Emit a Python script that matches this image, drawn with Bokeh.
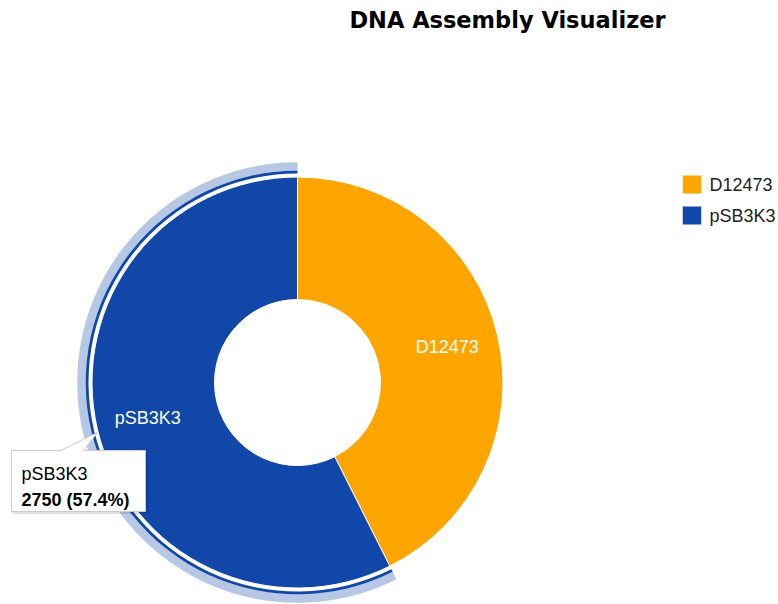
import numpy as np
from bokeh.plotting import figure
from bokeh.models import ColumnDataSource, Range1d
from bokeh.embed import file_html
from bokeh.resources import INLINE
from bokeh.core.properties import value

# ---- data ----
title = "DNA Assembly Visualizer"
categories = ["D12473", "pSB3K3"]
values = [2040, 2750]
colors = ["#FFA500", "#1047A9"]
halo_color = "#B7C8E5"
highlighted = "pSB3K3"

# ---- layout ----
W, H = 778, 604
def Y(y):  # reference (top-down) pixel -> bokeh (bottom-up)
    return H - y

p = figure(width=W, height=H, x_range=Range1d(0, W), y_range=Range1d(0, H),
           output_backend="svg", toolbar_location=None, min_border=0)
p.axis.visible = False
p.grid.visible = False
p.outline_line_color = None
p.background_fill_color = "white"
p.border_fill_color = "white"

cx, cy = 297, Y(382)
r_in, r_out = 83, 205.5

vals = np.array(values, dtype=float)
total = vals.sum()
fracs = vals / total
ends = np.pi / 2 - 2 * np.pi * np.cumsum(fracs)
starts = np.concatenate([[np.pi / 2], ends[:-1]])
mids = (starts + ends) / 2
lab_r = 154

src = ColumnDataSource(dict(
    cat=categories, val=values, color=colors,
    start=starts, end=ends,
    lx=cx + lab_r * np.cos(mids), ly=cy + lab_r * np.sin(mids),
))

# halo ring on highlighted slice
hi = categories.index(highlighted)
hsrc = ColumnDataSource(dict(start=[starts[hi]], end=[ends[hi]], color=[colors[hi]]))
p.annular_wedge(x=cx, y=cy, inner_radius=211.5, outer_radius=220.3,
                start_angle="start", end_angle="end", direction="clock",
                fill_color=halo_color, line_color=None, source=hsrc)
p.annular_wedge(x=cx, y=cy, inner_radius=209.0, outer_radius=211.8,
                start_angle="start", end_angle="end", direction="clock",
                fill_color="color", line_color=None, source=hsrc)

# donut
p.annular_wedge(x=cx, y=cy, inner_radius=r_in, outer_radius=r_out,
                start_angle="start", end_angle="end", direction="clock",
                fill_color="color", line_color="white", line_width=1, source=src)

# slice labels
p.text(x="lx", y="ly", text="cat", source=src, text_color="white",
       text_font=value("Liberation Sans"), text_font_size="18px",
       text_align="center", text_baseline="middle")

# title
p.text(x=[507], y=[Y(19.5)], text=[title], text_font=value("DejaVu Sans"),
       text_font_style="bold", text_font_size="22.5px", text_color="#000000",
       text_align="center", text_baseline="middle")

# legend
leg_y = [Y(184), Y(215)]
lsrc = ColumnDataSource(dict(x=[691.5] * len(categories), y=leg_y,
                             tx=[709] * len(categories), cat=categories, color=colors))
p.rect(x="x", y="y", width=18.5, height=18, fill_color="color", line_color=None, source=lsrc)
p.text(x="tx", y="y", text="cat", source=lsrc, text_color="#222222",
       text_font=value("Liberation Sans"), text_font_size="18px",
       text_align="left", text_baseline="middle")

# tooltip
bl, br, bt, bb = 11, 145, 450, 511
p.quad(left=[bl + 1], right=[br + 2], top=[Y(bt) - 1], bottom=[Y(bb) - 2.5],
       fill_color="#000000", fill_alpha=0.12, line_color=None)
p.quad(left=[bl], right=[br], top=[Y(bt)], bottom=[Y(bb)],
       fill_color="white", line_color="#CCCCCC", line_width=1)
p.patch(x=[60, 97, 83], y=[Y(bt) - 0.5, Y(432), Y(bt) - 0.5],
        fill_color="white", line_color=None)
p.line(x=[60, 97, 83], y=[Y(bt), Y(432), Y(bt)], line_color="#CCCCCC", line_width=1)

pct = 100 * values[hi] / total
p.text(x=[21], y=[Y(473)], text=[categories[hi]], text_color="#000000",
       text_font=value("Liberation Sans"), text_font_size="18px",
       text_align="left", text_baseline="middle")
p.text(x=[21], y=[Y(499.5)], text=[f"{values[hi]} ({pct:.1f}%)"], text_color="#000000",
       text_font=value("Liberation Sans"), text_font_style="bold", text_font_size="18px",
       text_align="left", text_baseline="middle")

open("out.html", "w").write(file_html(p, INLINE))
